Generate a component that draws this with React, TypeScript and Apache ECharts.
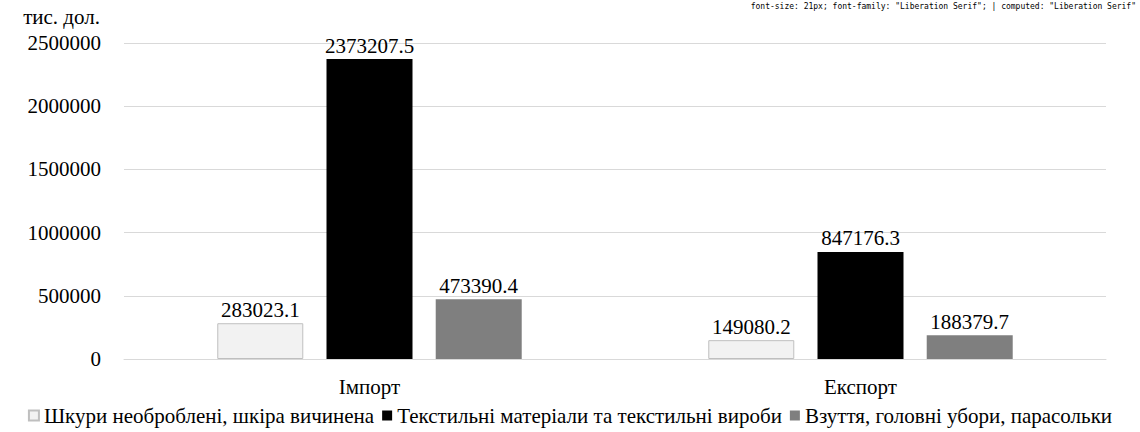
import React, { useEffect, useRef, useState } from "react";
import * as echarts from "echarts";

const categories = ["Імпорт", "Експорт"];
const seriesNames = [
  "Шкури необроблені, шкіра вичинена",
  "Текстильні матеріали та текстильні вироби",
  "Взуття, головні убори, парасольки",
];
const hides = [283023.1, 149080.2];
const textiles = [2373207.5, 847176.3];
const footwear = [473390.4, 188379.7];
const yTicks = { min: 0, max: 2500000, interval: 500000 };
const unitLabel = "тис. дол.";

const FONT = "Liberation Serif";
const FS = 21;

export default function App() {
  const ref = useRef<HTMLDivElement>(null);
  const [dbg, setDbg] = useState("");
  useEffect(() => {
    const chart = echarts.init(ref.current!, undefined, { renderer: "svg" });
    const label = {
      show: true,
      position: "top" as const,
      distance: 3,
      color: "#000",
      fontFamily: FONT,
      fontSize: FS,
      formatter: (p: any) => String(p.value),
    };
    const mk = (name: string, data: number[], color: string, border?: string) => ({
      name,
      type: "bar",
      data,
      barWidth: 86,
      barGap: "27%",
      itemStyle: { color, borderColor: border || color, borderWidth: border ? 1 : 0 },
      label,
    });
    chart.setOption({
      animation: false,
      grid: { left: 124, right: 34, top: 43, bottom: 73 },
      legend: {
        bottom: 1,
        left: "center",
        itemWidth: 10,
        itemHeight: 10,
        itemGap: 8,
        icon: "rect",
        textStyle: { fontFamily: FONT, fontSize: FS, color: "#000" },
        data: seriesNames,
      },
      xAxis: {
        type: "category",
        data: categories,
        axisLine: { lineStyle: { color: "#d9d9d9" } },
        axisTick: { show: false },
        axisLabel: { color: "#000", fontFamily: FONT, fontSize: FS, margin: 17 },
      },
      yAxis: {
        type: "value",
        min: yTicks.min,
        max: yTicks.max,
        interval: yTicks.interval,
        name: unitLabel,
        nameLocation: "end",
        nameGap: 16,
        nameTextStyle: { color: "#000", fontFamily: FONT, fontSize: FS, align: "right", padding: [0, 24, 0, 0] },
        axisLine: { show: false },
        axisTick: { show: false },
        splitLine: { lineStyle: { color: "#d9d9d9" } },
        axisLabel: { color: "#000", fontFamily: FONT, fontSize: FS, margin: 23, formatter: (v: number) => String(v) },
      },
      series: [
        mk(seriesNames[0], hides, "#f2f2f2", "#bfbfbf"),
        mk(seriesNames[1], textiles, "#000000"),
        mk(seriesNames[2], footwear, "#7f7f7f"),
      ],
    });
    const t = ref.current!.querySelector("text");
    const cs = t ? getComputedStyle(t).fontFamily : "none";
    setDbg((t ? t.getAttribute("style") : "no text") + " | computed: " + cs);
    return () => chart.dispose();
  }, []);
  return (
    <div style={{ position: "absolute", left: 0, top: 0, width: 1140, height: 432 }}>
      <div ref={ref} style={{ width: 1140, height: 432 }} />
      <div style={{ position: "absolute", right: 4, top: 2, fontSize: 8, fontFamily: "monospace", maxWidth: 560 }}>{dbg}</div>
    </div>
  );
}
